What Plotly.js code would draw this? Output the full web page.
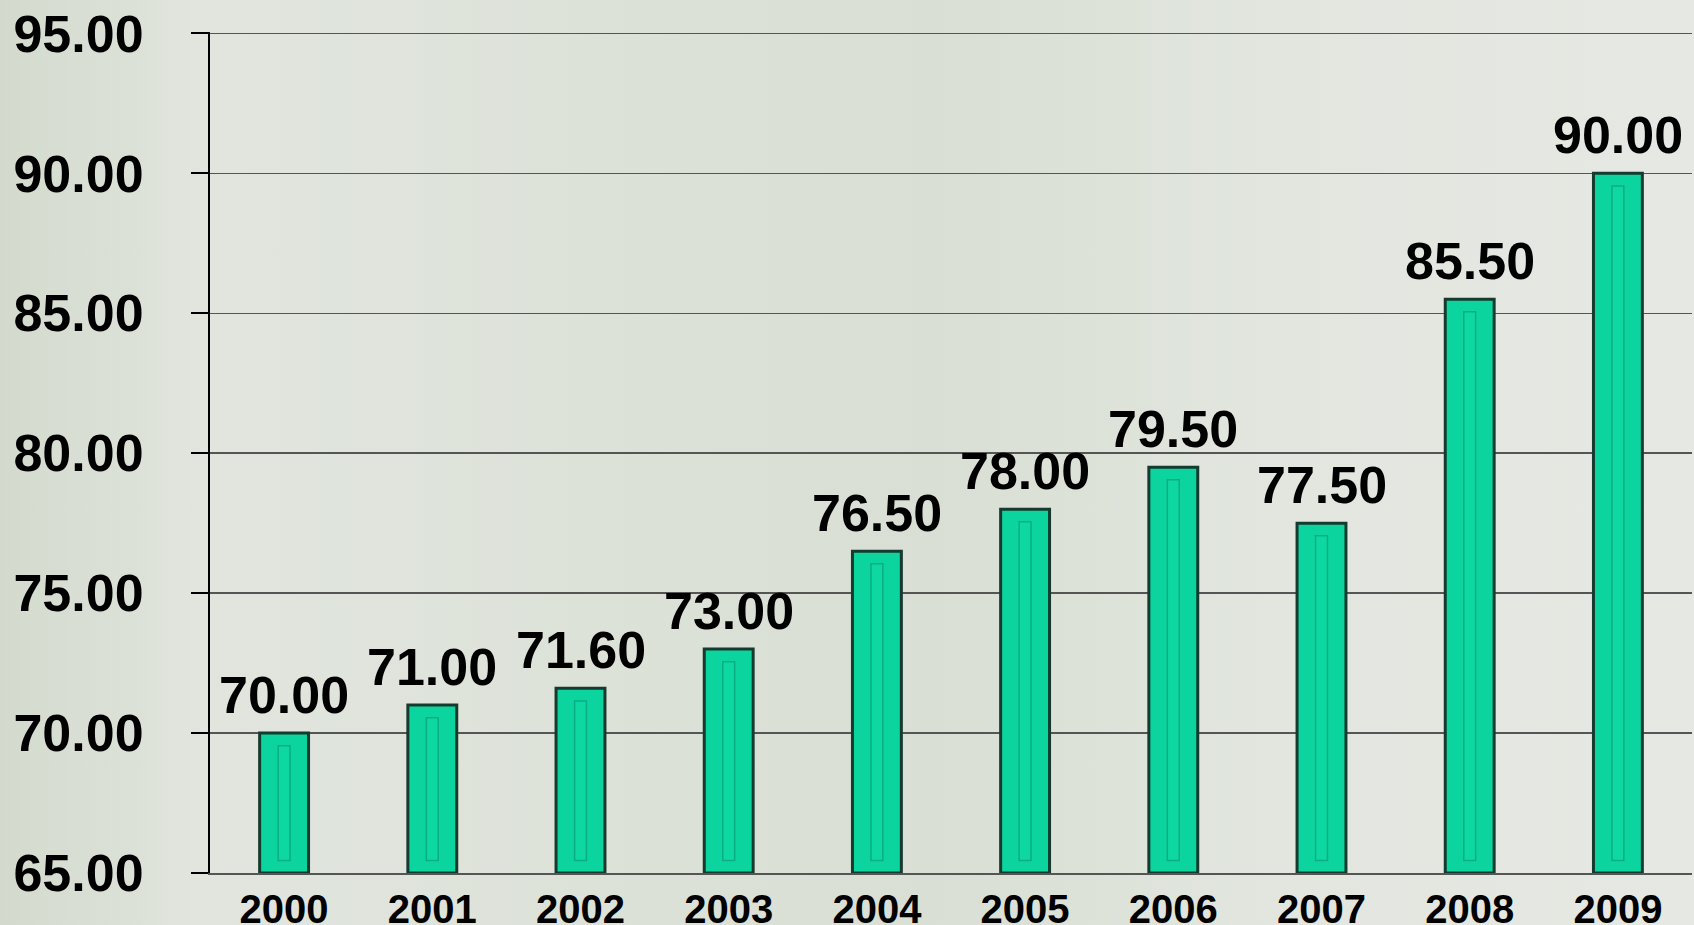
<!DOCTYPE html>
<html>
<head>
<meta charset="utf-8">
<script src="https://cdn.plot.ly/plotly-3.0.1.min.js"></script>
<style>
  html, body { margin: 0; padding: 0; }
  body {
    width: 1694px; height: 925px; overflow: hidden;
    background: linear-gradient(90deg, #d3dacd 0%, #e1e5de 12%, #dde2d9 35%, #d9dfd4 55%, #e2e6df 75%, #e6e9e3 100%);
  }
  #chart { width: 1694px; height: 925px; }
</style>
</head>
<body>
<div id="chart"></div>
<script>
const years = ['2000','2001','2002','2003','2004','2005','2006','2007','2008','2009'];
const values = [70.00, 71.00, 71.60, 73.00, 76.50, 78.00, 79.50, 77.50, 85.50, 90.00];
const yTicks = [65, 70, 75, 80, 85, 90, 95];
const baseValue = 65;

const fontFamily = '"Liberation Sans", Arial, sans-serif';

// main bars
const mainBars = {
  type: 'bar',
  x: years,
  y: values.map(v => v - baseValue),
  base: baseValue,
  width: 0.33,
  marker: { color: '#0cd49e', line: { color: '#163a2e', width: 3 } },
  hoverinfo: 'skip'
};
// inner bevel stripe drawn from the same values (inset a little at both ends)
const inset = 0.45;
const stripe = {
  type: 'bar',
  x: years,
  y: values.map(v => v - baseValue - 2 * inset),
  base: baseValue + inset,
  width: 0.08,
  marker: { color: '#0ed8a2', line: { color: '#0aae82', width: 1.5 } },
  hoverinfo: 'skip'
};

// value labels: x is the category index on the category axis
const annotations = years.map((yr, i) => ({
  x: i, y: values[i], xref: 'x', yref: 'y',
  text: values[i].toFixed(2),
  showarrow: false, yanchor: 'bottom', xanchor: 'center', yshift: 7,
  font: { family: fontFamily, size: 52, color: '#000', weight: 'bold' }
}));

const layout = {
  width: 1694, height: 925,
  paper_bgcolor: 'rgba(0,0,0,0)',
  plot_bgcolor: 'rgba(0,0,0,0)',
  margin: { l: 210, r: 2, t: 32, b: 52, pad: 0 },
  barmode: 'overlay',
  showlegend: false,
  annotations: annotations,
  xaxis: {
    type: 'category',
    categoryorder: 'array', categoryarray: years,
    range: [-0.5, years.length - 0.5], autorange: false,
    showgrid: false,
    showline: true, linecolor: '#555', linewidth: 2,
    ticks: '', ticklabelstandoff: 0,
    tickfont: { family: fontFamily, size: 40, color: '#000', weight: 'bold' },
    fixedrange: true
  },
  yaxis: {
    range: [65, 95.05], autorange: false,
    tickmode: 'array', tickvals: yTicks, ticktext: yTicks.map(v => v.toFixed(2)),
    showgrid: true, gridcolor: '#555', gridwidth: 1.5,
    showline: true, linecolor: '#000', linewidth: 2,
    ticks: 'outside', ticklen: 17, tickcolor: '#000', tickwidth: 2,
    ticklabelstandoff: 37,
    tickfont: { family: fontFamily, size: 52, color: '#000', weight: 'bold' },
    zeroline: false,
    fixedrange: true
  }
};

Plotly.newPlot('chart', [mainBars, stripe], layout, { displayModeBar: false, staticPlot: true });
</script>
</body>
</html>
